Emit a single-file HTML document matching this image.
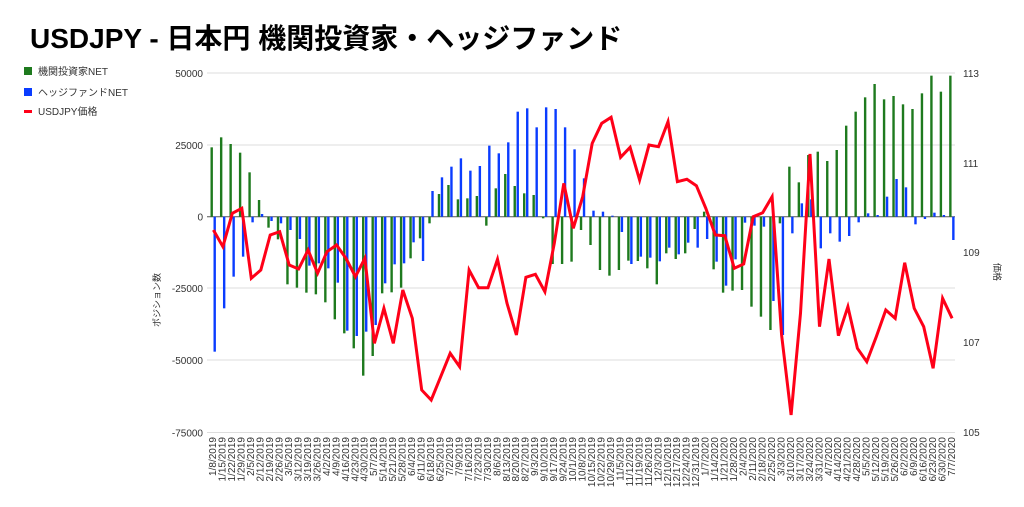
<!DOCTYPE html>
<html><head><meta charset="utf-8"><style>
html,body{margin:0;padding:0;background:#fff;width:1024px;height:507px;overflow:hidden}
svg{display:block;font-family:"Liberation Sans","Noto Sans CJK JP",sans-serif}
</style></head><body>
<svg id="s" width="1024" height="507" xmlns="http://www.w3.org/2000/svg">
<text x="30" y="48" font-size="28" font-weight="bold" fill="#000">USDJPY - 日本円 機関投資家・ヘッジファンド</text>
<rect x="24" y="67" width="8" height="8" fill="#1e7a1e"/><text x="38" y="75" font-size="10" fill="#333">機関投資家NET</text>
<rect x="24" y="88" width="8" height="8" fill="#0a3cff"/><text x="38" y="96" font-size="10" fill="#333">ヘッジファンドNET</text>
<rect x="24" y="110" width="8" height="3" fill="#ff0018"/><text x="38" y="115" font-size="10" fill="#333">USDJPY価格</text>
<g id="grid"></g><g id="bars"></g><g id="line"></g><g id="lab"></g>
<text transform="translate(160,300) rotate(-90)" font-size="9" fill="#333" text-anchor="middle">ポジション数</text>
<text transform="translate(994,272) rotate(90)" font-size="9" fill="#333" text-anchor="middle">価格</text>
</svg>
<script>
var NS="http://www.w3.org/2000/svg";
function el(p,t,a,txt){var e=document.createElementNS(NS,t);for(var k in a)e.setAttribute(k,a[k]);if(txt!=null)e.textContent=txt;document.getElementById(p).appendChild(e);}
var gy=[73,145,216.7,288,360,432.5],gl=["50000","25000","0","-25000","-50000","-75000"];
gy.forEach(function(y,i){el("grid","line",{x1:207,x2:955,y1:y,y2:y,stroke:i==2?"#555":"#ddd","stroke-width":1});
el("lab","text",{x:203,y:y+4,"font-size":10,"text-anchor":"end",fill:"#333"},gl[i]);});
[[73,"113"],[163,"111"],[252,"109"],[342,"107"],[432,"105"]].forEach(function(r){el("lab","text",{x:963,y:r[0]+4,"font-size":10,fill:"#333"},r[1]);});
var G=[262,232,252,278,337,420,503,538,673,683,698,703,727,778,820,865,947,888,700,697,683,595,535,490,402,375,418,415,408,497,385,342,378,400,405,475,612,612,605,510,555,630,647,630,602,603,625,673,580,597,580,507,455,628,698,692,690,740,770,810,490,320,367,285,275,303,270,197,155,112,72,118,108,133,147,100,47,95,47];
var B=[875,745,650,590,487,462,483,490,510,537,617,610,625,668,812,828,815,795,670,613,610,547,603,393,352,320,295,332,318,257,280,247,155,145,202,142,147,202,268,355,452,455,467,516,612,590,593,604,563,583,548,563,537,605,677,598,488,497,500,723,825,520,430,418,565,520,545,528,487,460,465,410,357,382,493,477,458,465,540];
var P=[510,560,460,445,655,630,525,515,615,627,570,640,575,555,595,650,595,850,745,850,690,775,990,1020,950,880,920,630,683,683,598,730,825,652,643,695,550,370,505,410,250,190,172,292,262,360,255,260,185,365,358,377,445,525,527,625,612,470,458,410,825,1065,760,282,800,597,827,740,865,905,830,750,775,608,745,800,925,715,775];
var dates=[];var d=new Date(2019,0,8);for(var i=0;i<79;i++){dates.push((d.getMonth()+1)+"/"+d.getDate()+"/"+d.getFullYear());d.setDate(d.getDate()+7);}
var z=216.7,pts=[];
for(var i=0;i<79;i++){var x=211.7+i*9.47;
var gyv=60+G[i]/3,byv=60+B[i]/3;
el("bars","rect",{x:x-1.2,y:Math.min(z,gyv),width:2.4,height:Math.abs(gyv-z),fill:"#1e7a1e"});
el("bars","rect",{x:x+1.8,y:Math.min(z,byv),width:2.4,height:Math.abs(byv-z),fill:"#0a3cff"});
pts.push((x+1.7).toFixed(1)+","+(60+P[i]/3).toFixed(1));
el("lab","text",{transform:"translate("+(x+4.5)+",437) rotate(-90)","font-size":10,"text-anchor":"end",fill:"#333"},dates[i]);}
el("line","polyline",{points:pts.join(" "),fill:"none",stroke:"#ff0018","stroke-width":3,"stroke-linejoin":"miter"});
</script>
</body></html>
